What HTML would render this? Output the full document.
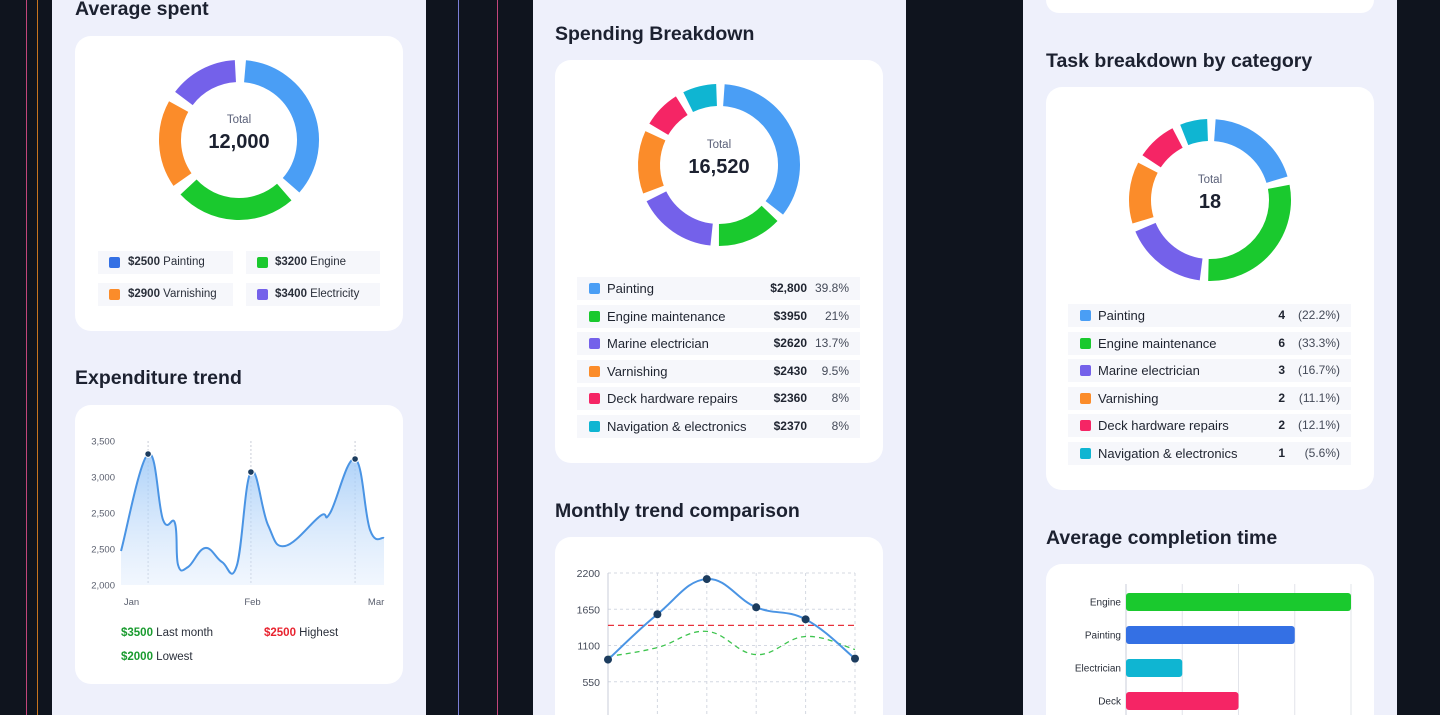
<!DOCTYPE html>
<html><head><meta charset="utf-8">
<style>
*{box-sizing:border-box;margin:0;padding:0}
html{width:1440px;height:715px;overflow:hidden}
body{width:1440px;height:715px;overflow:hidden;background:#0f141e;font-family:"Liberation Sans",sans-serif;position:relative}
.abs{position:absolute}
.panel{position:absolute;top:0;height:715px;background:#eef0fb}
.card{position:absolute;background:#fff;border-radius:16px;overflow:hidden}
.cut{border-bottom-left-radius:0;border-bottom-right-radius:0}
.title{position:absolute;font-size:19.5px;font-weight:bold;color:#1c2130;white-space:nowrap}
.vline{position:absolute;top:0;width:1px;height:715px}
.lg{position:absolute;background:#f6f7fb;height:23px;font-size:11.5px;color:#2a2f3a;white-space:nowrap}
.sq{position:absolute;width:11px;height:11px;border-radius:2px;top:6px}
.row{position:absolute;background:#f6f7fb;height:23px;font-size:13px;color:#1f2430;white-space:nowrap}
svg text{font-family:"Liberation Sans",sans-serif}
</style></head><body>
<div class="abs" style="left:0;top:0;width:1440px;height:715px;overflow:hidden">
<div class="vline" style="left:26px;background:#c2457a"></div>
<div class="vline" style="left:37px;background:#c7741e"></div>
<div class="vline" style="left:458px;background:#7b7fd6"></div>
<div class="vline" style="left:497px;background:#c2457a"></div>

<!-- LEFT PANEL -->
<div class="panel" style="left:52px;width:374px"></div>
<div class="title" style="left:75px;top:-2px">Average spent</div>
<div class="card" style="left:75px;top:36px;width:328px;height:295px">
  <svg id="d1" class="abs" style="left:0;top:0" width="328" height="200"></svg>
  <div class="lg" style="left:23px;top:215px;width:135px"><span class="sq" style="left:11px;background:#3470e4"></span><span class="abs" style="left:30px;top:5px"><b>$2500</b> Painting</span></div>
  <div class="lg" style="left:171px;top:215px;width:134px"><span class="sq" style="left:11px;background:#1ac92e"></span><span class="abs" style="left:29px;top:5px"><b>$3200</b> Engine</span></div>
  <div class="lg" style="left:23px;top:247px;width:135px"><span class="sq" style="left:11px;background:#fb8c2a"></span><span class="abs" style="left:30px;top:5px"><b>$2900</b> Varnishing</span></div>
  <div class="lg" style="left:171px;top:247px;width:134px"><span class="sq" style="left:11px;background:#7461ea"></span><span class="abs" style="left:29px;top:5px"><b>$3400</b> Electricity</span></div>
</div>
<div class="title" style="left:75px;top:367px">Expenditure trend</div>
<div class="card" style="left:75px;top:405px;width:328px;height:279px">
  <svg id="t1" class="abs" style="left:0;top:0" width="328" height="210"></svg>
  <div class="abs" style="left:46px;top:222px;font-size:11.5px;color:#2a2f3a;white-space:nowrap"><b style="color:#1a9b2f">$3500</b> Last month</div>
  <div class="abs" style="left:189px;top:222px;font-size:11.5px;color:#2a2f3a;white-space:nowrap"><b style="color:#e8232f">$2500</b> Highest</div>
  <div class="abs" style="left:46px;top:246px;font-size:11.5px;color:#2a2f3a;white-space:nowrap"><b style="color:#1a9b2f">$2000</b> Lowest</div>
</div>

<!-- MIDDLE PANEL -->
<div class="panel" style="left:533px;width:373px"></div>
<div class="title" style="left:555px;top:23px">Spending Breakdown</div>
<div class="card" style="left:555px;top:60px;width:328px;height:403px">
  <svg id="d2" class="abs" style="left:0;top:0" width="328" height="205"></svg>
  <div id="leg2"></div>
</div>
<div class="title" style="left:555px;top:500px">Monthly trend comparison</div>
<div class="card cut" style="left:555px;top:537px;width:328px;height:178px">
  <svg id="t2" class="abs" style="left:0;top:0" width="328" height="178"></svg>
</div>

<!-- RIGHT PANEL -->
<div class="panel" style="left:1023px;width:374px"></div>
<div class="card" style="left:1046px;top:0;width:328px;height:13px;border-top-left-radius:0;border-top-right-radius:0"></div>
<div class="title" style="left:1046px;top:50px">Task breakdown by category</div>
<div class="card" style="left:1046px;top:87px;width:328px;height:403px">
  <svg id="d3" class="abs" style="left:0;top:0" width="328" height="205"></svg>
  <div id="leg3"></div>
</div>
<div class="title" style="left:1046px;top:527px">Average completion time</div>
<div class="card cut" style="left:1046px;top:564px;width:328px;height:151px">
  <svg id="b1" class="abs" style="left:0;top:0" width="328" height="151"></svg>
</div>
</div>

<script>
// ---- data ----
const donut1Labels = ['Painting','Engine','Varnishing','Electricity'];
const donut1Weights = [126, 88, 64, 50];
const donut1Colors = ['#4a9ef5','#1ac92e','#fb8c2a','#7461ea'];
const donut2Labels = ['Painting','Engine maintenance','Marine electrician','Varnishing','Deck hardware repairs','Navigation & electronics'];
const donut2Weights = [123, 46, 57, 45, 27, 24];
const donut2Values = ['$2,800','$3950','$2620','$2430','$2360','$2370'];
const donut2Pcts = ['39.8%','21%','13.7%','9.5%','8%','8%'];
const donut3Weights = [67, 99, 58, 43, 28, 19];
const donut3Counts = ['4','6','3','2','2','1'];
const donut3Pcts = ['(22.2%)','(33.3%)','(16.7%)','(11.1%)','(12.1%)','(5.6%)'];
const catColors = ['#4a9ef5','#1ac92e','#7461ea','#fb8c2a','#f52565','#0fb5d2'];

const trendX = [0,10.3,16,20.5,21.7,25.5,32,38.4,44,49.4,55.9,62.4,75.7,79.5,89,94.7,100];
const trendY = [2472,3819,2903,2861,2278,2250,2514,2319,2264,3569,2833,2542,2958,3000,3750,2764,2653];
const trendPeaks = [1,9,14];
const trendTickVals = [2000,2500,3000,3500,4000];
const trendTickLabels = ['2,000','2,500','2,500','3,000','3,500'];
const trendMonths = ['Jan','Feb','Mar'];
const trendMonthX = [4,50,97];
const trendGridX = [10.3,49.4,89];

const monthlyCats = [0,1,2,3,4,5];
const monthlyBlue = [886,1574,2108,1680,1497,901];
const monthlyGreen = [931,1069,1314,962,1237,1039];
const monthlyAvg = 1405;
const monthlyTicks = [0,550,1100,1650,2200];

const barCats = ['Engine','Painting','Electrician','Deck'];
const barVals = [4,3,1,2];
const barColors = ['#1ac92e','#3470e4','#0fb5d2','#f52565'];
const barTicks = [0,1,2,3,4];

const NS='http://www.w3.org/2000/svg';
function mk(parent,tag,attrs){const e=document.createElementNS(NS,tag);for(const k in attrs)e.setAttribute(k,attrs[k]);parent.appendChild(e);return e;}

function donut(id,cx,cy,r,w,weights,colors,total,gap){
  const svg=document.getElementById(id);
  const sum=weights.reduce((a,b)=>a+b,0);
  const avail=360-gap*weights.length;
  let a=gap/2+1;
  weights.forEach((v,i)=>{
    const span=v/sum*avail;
    const a0=(a-90)*Math.PI/180,a1=(a+span-90)*Math.PI/180;
    const p=mk(svg,'path',{d:`M${cx+r*Math.cos(a0)} ${cy+r*Math.sin(a0)} A${r} ${r} 0 ${span>180?1:0} 1 ${cx+r*Math.cos(a1)} ${cy+r*Math.sin(a1)}`,fill:'none',stroke:colors[i],'stroke-width':w});
    
    
    a+=span+gap;
  });
  const t1=mk(svg,'text',{x:cx,y:cy-17,'text-anchor':'middle','font-size':11.5,fill:'#5a6078'});t1.textContent='Total';
  
  
  const t2=mk(svg,'text',{x:cx,y:cy+8,'text-anchor':'middle','font-size':20,'font-weight':'bold',fill:'#1c2130'});t2.textContent=total;
  
  
}
donut('d1',164,104,69,22,donut1Weights,donut1Colors,'12,000',8);
donut('d2',164,105,70,22,donut2Weights,catColors,'16,520',6);
donut('d3',164,113,70,22,donut3Weights,catColors,'18',6);

function legend(id,top,vals,pcts,valRight,pctRight){
  const c=document.getElementById(id);
  donut2Labels.forEach((l,i)=>{
    const d=document.createElement('div');d.className='row';
    
    
    d.style.left='22px';d.style.top=(top+i*27.6)+'px';d.style.width='283px';
    d.innerHTML=`<span class="sq" style="left:12px;background:${catColors[i]}"></span><span class="abs" style="left:30px;top:4px">${l}</span><b class="abs" style="right:${valRight}px;top:4px;font-size:12px">${vals[i]}</b><span class="abs" style="right:${pctRight}px;top:4px;font-size:12px;color:#444a58">${pcts[i]}</span>`;
    c.appendChild(d);
  });
}
legend('leg2',217,donut2Values,donut2Pcts,53,11);
legend('leg3',217,donut3Counts,donut3Pcts,66,11);

function smoothPath(pts){
  let d=`M${pts[0][0]} ${pts[0][1]}`;
  for(let i=0;i<pts.length-1;i++){
    const p0=pts[i-1]||pts[i],p1=pts[i],p2=pts[i+1],p3=pts[i+2]||p2;
    const t=0.2;
    d+=` C${p1[0]+(p2[0]-p0[0])*t} ${p1[1]+(p2[1]-p0[1])*t} ${p2[0]-(p3[0]-p1[0])*t} ${p2[1]-(p3[1]-p1[1])*t} ${p2[0]} ${p2[1]}`;
  }
  return d;
}

// trend chart (card origin 75,405)
(function(){
  const svg=document.getElementById('t1');
  const X=v=>46+v/100*263, Y=v=>180-(v-2000)/2000*144;
  const defs=mk(svg,'defs',{});
  const g=mk(defs,'linearGradient',{id:'tg',x1:0,y1:0,x2:0,y2:1});
  mk(g,'stop',{offset:0,'stop-color':'#9cc8f7','stop-opacity':0.85});
  mk(g,'stop',{offset:1,'stop-color':'#dceafc','stop-opacity':0.4});
  trendTickVals.forEach((v,i)=>{const t=mk(svg,'text',{x:40,y:Y(v)+3.5,'text-anchor':'end','font-size':9.5,fill:'#5a5f6e'});t.textContent=trendTickLabels[i];
    });
  trendGridX.forEach(v=>{const l=mk(svg,'line',{x1:X(v),x2:X(v),y1:Y(4000),y2:Y(2000),stroke:'#c8ccd6','stroke-dasharray':'2 2'});
    });
  const pts=trendX.map((x,i)=>[X(x),Y(trendY[i])]);
  const d=smoothPath(pts);
  const a=mk(svg,'path',{d:d+` L${X(100)} ${Y(2000)} L${X(0)} ${Y(2000)} Z`,fill:'url(#tg)'});
  
  const l=mk(svg,'path',{d,fill:'none',stroke:'#4a94e4','stroke-width':2});
  
  trendPeaks.forEach(i=>{const c=mk(svg,'circle',{cx:pts[i][0],cy:pts[i][1],r:3.3,fill:'#1c3c5e',stroke:'#fff','stroke-width':1});
    });
  trendMonths.forEach((m,i)=>{const t=mk(svg,'text',{x:X(trendMonthX[i]),y:200,'text-anchor':'middle','font-size':9.5,fill:'#5a5f6e'});t.textContent=m;
    });
})();

// monthly chart (card origin 555,537)
(function(){
  const svg=document.getElementById('t2');
  const X=i=>53+i*49.4, Y=v=>181-v/2200*145;
  monthlyTicks.forEach(v=>{
    const t=mk(svg,'text',{x:45,y:Y(v)+4,'text-anchor':'end','font-size':10.5,fill:'#444a58'});t.textContent=v;
    
    const l=mk(svg,'line',{x1:X(0),x2:X(5),y1:Y(v),y2:Y(v),stroke:'#d4d8e2','stroke-dasharray':'3 3'});
    
  });
  monthlyCats.forEach(i=>{const l=mk(svg,'line',{x1:X(i),x2:X(i),y1:Y(2200),y2:Y(0),stroke:i==0?'#c8ccd8':'#d4d8e2','stroke-dasharray':i==0?'':'3 3'});
    });
  const av=mk(svg,'line',{x1:X(0),x2:X(5),y1:Y(monthlyAvg),y2:Y(monthlyAvg),stroke:'#e8323c','stroke-width':1.3,'stroke-dasharray':'6 4'});
  
  const gp=mk(svg,'path',{d:smoothPath(monthlyCats.map(i=>[X(i),Y(monthlyGreen[i])])),fill:'none',stroke:'#3ec44e','stroke-width':1.3,'stroke-dasharray':'5 4'});
  
  const bp=mk(svg,'path',{d:smoothPath(monthlyCats.map(i=>[X(i),Y(monthlyBlue[i])])),fill:'none',stroke:'#4a94e4','stroke-width':2});
  
  monthlyCats.forEach(i=>{const c=mk(svg,'circle',{cx:X(i),cy:Y(monthlyBlue[i]),r:4,fill:'#1c3c5e'});
    });
})();

// bar chart (card origin 1046,564)
(function(){
  const svg=document.getElementById('b1');
  const X=v=>80+v/4*225, rowY=i=>29+i*33;
  barTicks.forEach(v=>{const l=mk(svg,'line',{x1:X(v),x2:X(v),y1:20,y2:151,stroke:v==0?'#c8ccd8':'#e2e4ea'});
    });
  barCats.forEach((c,i)=>{
    const r=mk(svg,'rect',{x:X(0),y:rowY(i),width:X(barVals[i])-X(0),height:18,rx:3,fill:barColors[i]});
    
    const t=mk(svg,'text',{x:75,y:rowY(i)+12.5,'text-anchor':'end','font-size':10,fill:'#2a2f3a'});t.textContent=c;
    
  });
})();
</script>
</body></html>
